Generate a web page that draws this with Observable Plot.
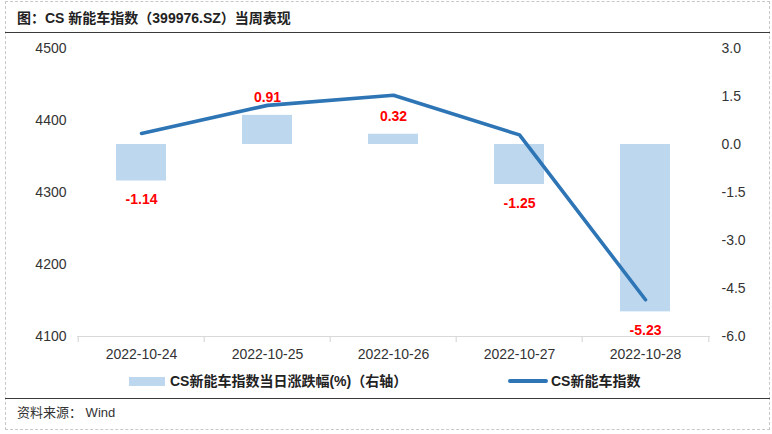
<!DOCTYPE html>
<html>
<head>
<meta charset="utf-8">
<script src="https://cdn.jsdelivr.net/npm/d3@7"></script>
<script src="https://cdn.jsdelivr.net/npm/@observablehq/plot@0.6"></script>
<style>
  html, body { margin: 0; padding: 0; background: #fff; }
  #wrap { position: relative; width: 772px; height: 434px; overflow: hidden;
    font-family: "Liberation Sans", Arial, "Noto Sans CJK SC", sans-serif; color: #333; }
  .abs { position: absolute; }
  #frame { left: 5px; top: 1px; width: 763px; height: 427px; border: 1px dashed #c8c8c8; }
  #title { left: 17px; top: 8px; font-size: 14px; font-weight: bold; color: #222; white-space: nowrap; line-height: 20px; }
  #line1 { left: 5px; top: 32px; width: 765px; border-top: 1.5px solid #3a3a3a; }
  #line2 { left: 5px; top: 398px; width: 765px; border-top: 1.5px solid #3a3a3a; }
  #source { left: 17px; top: 404px; font-size: 13px; color: #333; white-space: nowrap; line-height: 18px; }
  #chart { left: 0; top: 34px; }
  .leg { font-size: 14px; font-weight: bold; color: #222; white-space: nowrap; line-height: 18px; top: 372px; }
  .sw { position: absolute; }
</style>
</head>
<body>
<div id="wrap">
  <div id="frame" class="abs"></div>
  <div id="title" class="abs">图：CS 新能车指数（399976.SZ）当周表现</div>
  <div id="line1" class="abs"></div>
  <div id="chart" class="abs"></div>
  <div class="sw" id="sw1" style="left:129px; top:377px; width:36px; height:9px; background:#bdd7ee;"></div>
  <div class="abs leg" id="leg1" style="left:170px;"></div>
  <div class="sw" id="sw2" style="left:508px; top:379px; width:40px; height:4px; background:#2e75b6; border-radius:2px;"></div>
  <div class="abs leg" id="leg2" style="left:551px;"></div>
  <div id="line2" class="abs"></div>
  <div id="source" class="abs">资料来源：&nbsp;Wind</div>
</div>
<script>
// ---- data ----
const dates = ["2022-10-24", "2022-10-25", "2022-10-26", "2022-10-27", "2022-10-28"];
const pctChange = [-1.14, 0.91, 0.32, -1.25, -5.23];
const indexClose = [4382, 4421, 4435, 4380, 4151];
const leftTicks = [4100, 4200, 4300, 4400, 4500];
const rightTicks = [3.0, 1.5, 0.0, -1.5, -3.0, -4.5, -6.0];
const seriesNames = ["CS新能车指数当日涨跌幅(%)（右轴）", "CS新能车指数"];

document.getElementById("leg1").textContent = seriesNames[0];
document.getElementById("leg2").textContent = seriesNames[1];

// dual axis mapping: right domain [-6, 3] onto left domain [4100, 4500]
const L0 = 4100, L1 = 4500, R0 = -6, R1 = 3;
const toLeft = p => L0 + (p - R0) / (R1 - R0) * (L1 - L0);
const fromLeft = v => { const r = R0 + (v - L0) / (L1 - L0) * (R1 - R0); return Math.abs(r) < 1e-9 ? 0 : r; };

const bars = dates.map((d, i) => ({date: d, pct: pctChange[i]}));
const line = dates.map((d, i) => ({date: d, close: indexClose[i]}));

const W = 772, H = 330, ML = 77, MR = 62, MT = 14, MB = 28;
const pIn = 0.6, pOut = 0.3;
const step = (W - ML - MR) / (dates.length - pIn + 2 * pOut);
const plotH = H - MT - MB;
const tickLenUnits = 6 * (L1 - L0) / plotH;

const chart = Plot.plot({
  width: W, height: H,
  marginLeft: ML, marginRight: MR, marginTop: MT, marginBottom: MB,
  x: {type: "band", domain: dates, paddingInner: pIn, paddingOuter: pOut},
  y: {domain: [L0, L1]},
  style: {fontFamily: '"Liberation Sans", Arial, "Noto Sans CJK SC", sans-serif', fontSize: "14px", color: "#333", background: "transparent", overflow: "visible"},
  marks: [
    Plot.barY(bars, {x: "date", y1: toLeft(0), y2: d => toLeft(d.pct), fill: "#bdd7ee"}),
    Plot.ruleY([L0], {stroke: "#d9d9d9", strokeWidth: 1.2}),
    Plot.ruleX(dates, {x: d => d, dx: -step / 2, y1: L0, y2: L0 - tickLenUnits, stroke: "#d9d9d9", strokeWidth: 1.2}),
    Plot.ruleX([dates[dates.length - 1]], {x: d => d, dx: step / 2, y1: L0, y2: L0 - tickLenUnits, stroke: "#d9d9d9", strokeWidth: 1.2}),
    Plot.line(line, {x: "date", y: "close", stroke: "#2e75b6", strokeWidth: 3.6, strokeLinecap: "round", strokeLinejoin: "round"}),
    Plot.text(bars.filter(d => d.pct >= 0), {x: "date", y: d => toLeft(d.pct), text: d => d.pct.toFixed(2), dy: -18, fill: "#ff0000", fontWeight: "bold", fontSize: 14}),
    Plot.text(bars.filter(d => d.pct < 0), {x: "date", y: d => toLeft(d.pct), text: d => d.pct.toFixed(2), dy: 19, fill: "#ff0000", fontWeight: "bold", fontSize: 14}),
    Plot.axisX({tickSize: 0, tickPadding: 13, label: null, fontSize: 14, fill: "#333"}),
    Plot.axisY(leftTicks, {anchor: "left", tickSize: 0, tickPadding: 11, label: null, tickFormat: d3.format("d"), fontSize: 14, fill: "#333"}),
    Plot.axisY(rightTicks.map(toLeft), {anchor: "right", tickSize: 0, tickPadding: 11, label: null, tickFormat: v => fromLeft(v).toFixed(1), fontSize: 14, fill: "#333"})
  ]
});
document.getElementById("chart").appendChild(chart);
</script>
</body>
</html>
